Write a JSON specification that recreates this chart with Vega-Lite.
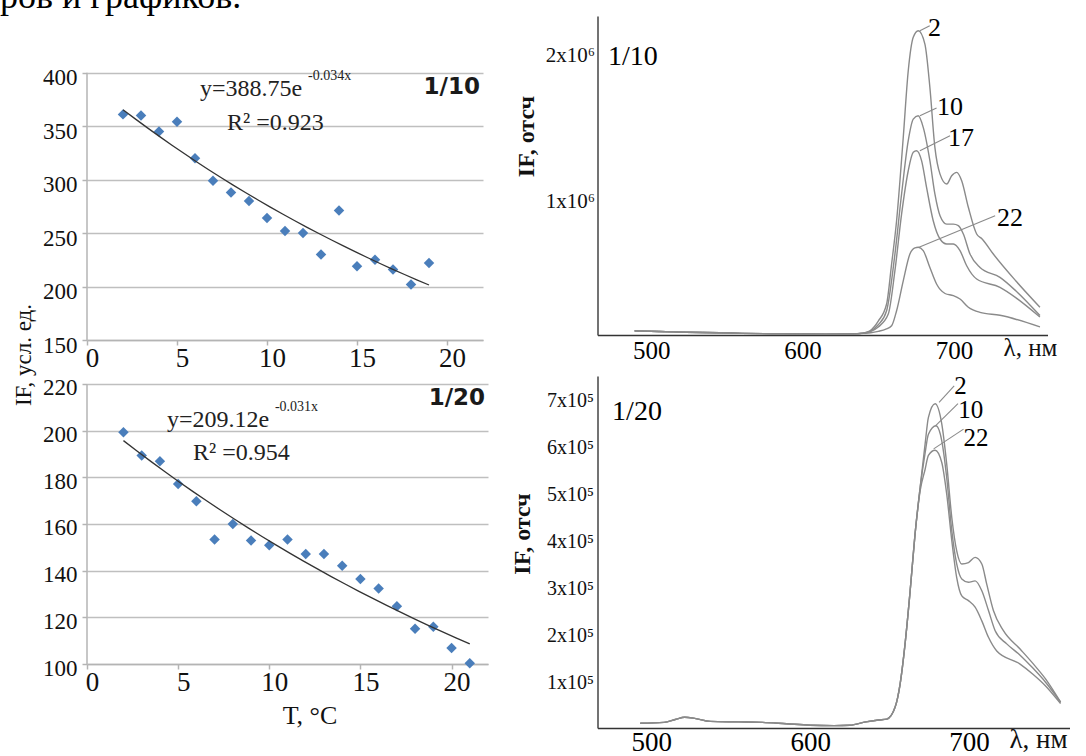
{
  "$schema": "https://vega.github.io/schema/vega-lite/v6.json",
  "background": "white",
  "padding": {"left": 0, "top": -22, "right": 0, "bottom": 0},
  "config": {
    "view": {"stroke": null},
    "font": "Liberation Serif",
    "axis": {"labelFont": "Liberation Serif", "titleFont": "Liberation Serif", "labelColor": "#111", "titleColor": "#111", "labelOverlap": false, "labelFlush": false, "labelBound": false, "titleFontWeight": "normal"}
  },
  "datasets": {
    "tl": [
      {"T": 2, "I": 361}, {"T": 3, "I": 360}, {"T": 4, "I": 345}, {"T": 5, "I": 354}, {"T": 6, "I": 320},
      {"T": 7, "I": 299}, {"T": 8, "I": 288}, {"T": 9, "I": 280}, {"T": 10, "I": 264}, {"T": 11, "I": 252},
      {"T": 12, "I": 250}, {"T": 13, "I": 230}, {"T": 14, "I": 271}, {"T": 15, "I": 219}, {"T": 16, "I": 225},
      {"T": 17, "I": 216}, {"T": 18, "I": 202}, {"T": 19, "I": 222}
    ],
    "bl": [
      {"T": 2, "I": 199.3}, {"T": 3, "I": 189.3}, {"T": 4, "I": 186.9}, {"T": 5, "I": 177.1}, {"T": 6, "I": 169.7},
      {"T": 7, "I": 153.3}, {"T": 8, "I": 160}, {"T": 9, "I": 152.9}, {"T": 10, "I": 150.9}, {"T": 11, "I": 153.3},
      {"T": 12, "I": 147.1}, {"T": 13, "I": 147.1}, {"T": 14, "I": 142.1}, {"T": 15, "I": 136.4}, {"T": 16, "I": 132.3},
      {"T": 17, "I": 124.7}, {"T": 18, "I": 115.1}, {"T": 19, "I": 116}, {"T": 20, "I": 106.9}, {"T": 21, "I": 100.3}
    ],
    "tr": [
      {"s": "2", "wl": 489, "I": 28000}, {"s": "2", "wl": 505, "I": 24000}, {"s": "2", "wl": 523, "I": 19000}, {"s": "2", "wl": 545, "I": 15000}, {"s": "2", "wl": 560, "I": 11000}, {"s": "2", "wl": 580, "I": 9000}, {"s": "2", "wl": 598, "I": 7000}, {"s": "2", "wl": 615, "I": 6000}, {"s": "2", "wl": 633, "I": 7000}, {"s": "2", "wl": 640, "I": 13000},
      {"s": "2", "wl": 644.5, "I": 29000}, {"s": "2", "wl": 650, "I": 95000}, {"s": "2", "wl": 655.5, "I": 212000}, {"s": "2", "wl": 658.8, "I": 485000}, {"s": "2", "wl": 662.1, "I": 782000}, {"s": "2", "wl": 666.5, "I": 1352000}, {"s": "2", "wl": 669.8, "I": 1808000}, {"s": "2", "wl": 673.1, "I": 2037000}, {"s": "2", "wl": 676.4, "I": 2082000}, {"s": "2", "wl": 680.8, "I": 1991000}, {"s": "2", "wl": 684.1, "I": 1694000}, {"s": "2", "wl": 687.4, "I": 1284000}, {"s": "2", "wl": 690.8, "I": 1101000}, {"s": "2", "wl": 695.2, "I": 1033000}, {"s": "2", "wl": 698.5, "I": 1090000}, {"s": "2", "wl": 701.8, "I": 1113000}, {"s": "2", "wl": 705.1, "I": 1056000}, {"s": "2", "wl": 709.5, "I": 874000}, {"s": "2", "wl": 715, "I": 691000}, {"s": "2", "wl": 718.6, "I": 657000}, {"s": "2", "wl": 726, "I": 554000}, {"s": "2", "wl": 740.8, "I": 371000}, {"s": "2", "wl": 756.8, "I": 190000},
      {"s": "10", "wl": 489, "I": 28000}, {"s": "10", "wl": 505, "I": 24000}, {"s": "10", "wl": 523, "I": 19000}, {"s": "10", "wl": 545, "I": 15000}, {"s": "10", "wl": 560, "I": 11000}, {"s": "10", "wl": 580, "I": 9000}, {"s": "10", "wl": 598, "I": 7000}, {"s": "10", "wl": 615, "I": 6000}, {"s": "10", "wl": 633, "I": 7000}, {"s": "10", "wl": 640, "I": 13000},
      {"s": "10", "wl": 644.5, "I": 25000}, {"s": "10", "wl": 650, "I": 70000}, {"s": "10", "wl": 655.5, "I": 166000}, {"s": "10", "wl": 661, "I": 554000}, {"s": "10", "wl": 665.4, "I": 965000}, {"s": "10", "wl": 669.8, "I": 1330000}, {"s": "10", "wl": 673.1, "I": 1477000}, {"s": "10", "wl": 676.4, "I": 1500000}, {"s": "10", "wl": 679.7, "I": 1421000}, {"s": "10", "wl": 684.1, "I": 1193000}, {"s": "10", "wl": 687.4, "I": 965000}, {"s": "10", "wl": 690.8, "I": 816000}, {"s": "10", "wl": 695.2, "I": 759000}, {"s": "10", "wl": 699.6, "I": 759000}, {"s": "10", "wl": 702.9, "I": 748000}, {"s": "10", "wl": 706.2, "I": 691000}, {"s": "10", "wl": 710.6, "I": 554000}, {"s": "10", "wl": 717.2, "I": 462000}, {"s": "10", "wl": 730.4, "I": 394000}, {"s": "10", "wl": 740.8, "I": 303000}, {"s": "10", "wl": 756.8, "I": 133000},
      {"s": "17", "wl": 489, "I": 28000}, {"s": "17", "wl": 505, "I": 24000}, {"s": "17", "wl": 523, "I": 19000}, {"s": "17", "wl": 545, "I": 15000}, {"s": "17", "wl": 560, "I": 11000}, {"s": "17", "wl": 580, "I": 9000}, {"s": "17", "wl": 598, "I": 7000}, {"s": "17", "wl": 615, "I": 6000}, {"s": "17", "wl": 633, "I": 7000}, {"s": "17", "wl": 640, "I": 13000},
      {"s": "17", "wl": 644.5, "I": 22000}, {"s": "17", "wl": 650, "I": 55000}, {"s": "17", "wl": 656.6, "I": 143000}, {"s": "17", "wl": 661, "I": 440000}, {"s": "17", "wl": 665.4, "I": 827000}, {"s": "17", "wl": 669.8, "I": 1124000}, {"s": "17", "wl": 673.1, "I": 1250000}, {"s": "17", "wl": 675.3, "I": 1261000}, {"s": "17", "wl": 678.6, "I": 1193000}, {"s": "17", "wl": 681.9, "I": 1010000}, {"s": "17", "wl": 686.3, "I": 782000}, {"s": "17", "wl": 690.8, "I": 657000}, {"s": "17", "wl": 695.2, "I": 623000}, {"s": "17", "wl": 699.6, "I": 623000}, {"s": "17", "wl": 704, "I": 577000}, {"s": "17", "wl": 708.4, "I": 474000}, {"s": "17", "wl": 715, "I": 383000}, {"s": "17", "wl": 730.4, "I": 326000}, {"s": "17", "wl": 740.8, "I": 256000}, {"s": "17", "wl": 756.8, "I": 123000},
      {"s": "22", "wl": 489, "I": 28000}, {"s": "22", "wl": 505, "I": 24000}, {"s": "22", "wl": 523, "I": 19000}, {"s": "22", "wl": 545, "I": 15000}, {"s": "22", "wl": 560, "I": 11000}, {"s": "22", "wl": 580, "I": 9000}, {"s": "22", "wl": 598, "I": 7000}, {"s": "22", "wl": 615, "I": 6000}, {"s": "22", "wl": 633, "I": 7000}, {"s": "22", "wl": 640, "I": 11000},
      {"s": "22", "wl": 645, "I": 15000}, {"s": "22", "wl": 650, "I": 25000}, {"s": "22", "wl": 655, "I": 40000}, {"s": "22", "wl": 658.8, "I": 63000}, {"s": "22", "wl": 662.1, "I": 166000}, {"s": "22", "wl": 666.5, "I": 371000}, {"s": "22", "wl": 670.9, "I": 554000}, {"s": "22", "wl": 674.2, "I": 596000}, {"s": "22", "wl": 676.4, "I": 600000}, {"s": "22", "wl": 679.7, "I": 577000}, {"s": "22", "wl": 684.1, "I": 462000}, {"s": "22", "wl": 688.5, "I": 349000}, {"s": "22", "wl": 694.1, "I": 284000}, {"s": "22", "wl": 699.6, "I": 269000}, {"s": "22", "wl": 704, "I": 246000}, {"s": "22", "wl": 709.5, "I": 190000}, {"s": "22", "wl": 717.2, "I": 155000}, {"s": "22", "wl": 730.4, "I": 135000}, {"s": "22", "wl": 756.8, "I": 55000}
    ],
    "br": [
      {"s": "2", "wl": 493, "I": 10000}, {"s": "2", "wl": 508, "I": 12000}, {"s": "2", "wl": 515, "I": 18000}, {"s": "2", "wl": 521, "I": 23000}, {"s": "2", "wl": 528, "I": 20000}, {"s": "2", "wl": 537, "I": 14000}, {"s": "2", "wl": 555, "I": 13000}, {"s": "2", "wl": 570, "I": 12000}, {"s": "2", "wl": 585, "I": 9000}, {"s": "2", "wl": 600, "I": 6000}, {"s": "2", "wl": 615, "I": 5000}, {"s": "2", "wl": 625, "I": 6000}, {"s": "2", "wl": 635, "I": 13000}, {"s": "2", "wl": 643, "I": 17000}, {"s": "2", "wl": 648.2, "I": 19000}, {"s": "2", "wl": 653.4, "I": 44000}, {"s": "2", "wl": 656.6, "I": 94000}, {"s": "2", "wl": 659.7, "I": 179000}, {"s": "2", "wl": 662.9, "I": 292000}, {"s": "2", "wl": 666, "I": 413000}, {"s": "2", "wl": 669.2, "I": 512000},
      {"s": "2", "wl": 672.3, "I": 604000}, {"s": "2", "wl": 674.4, "I": 661000}, {"s": "2", "wl": 678.6, "I": 690000}, {"s": "2", "wl": 682.8, "I": 647000}, {"s": "2", "wl": 685.9, "I": 562000}, {"s": "2", "wl": 689.1, "I": 448000}, {"s": "2", "wl": 692.2, "I": 377000}, {"s": "2", "wl": 695.4, "I": 349000}, {"s": "2", "wl": 699.6, "I": 352000}, {"s": "2", "wl": 703.8, "I": 363000}, {"s": "2", "wl": 708, "I": 349000}, {"s": "2", "wl": 711.1, "I": 306000}, {"s": "2", "wl": 715.3, "I": 250000}, {"s": "2", "wl": 721.6, "I": 207000}, {"s": "2", "wl": 732.1, "I": 168000}, {"s": "2", "wl": 740, "I": 138000}, {"s": "2", "wl": 748, "I": 105000}, {"s": "2", "wl": 757.6, "I": 55000},
      {"s": "10", "wl": 493, "I": 10000}, {"s": "10", "wl": 508, "I": 12000}, {"s": "10", "wl": 515, "I": 18000}, {"s": "10", "wl": 521, "I": 23000}, {"s": "10", "wl": 528, "I": 20000}, {"s": "10", "wl": 537, "I": 14000}, {"s": "10", "wl": 555, "I": 13000}, {"s": "10", "wl": 570, "I": 12000}, {"s": "10", "wl": 585, "I": 9000}, {"s": "10", "wl": 600, "I": 6000}, {"s": "10", "wl": 615, "I": 5000}, {"s": "10", "wl": 625, "I": 6000}, {"s": "10", "wl": 635, "I": 13000}, {"s": "10", "wl": 643, "I": 17000}, {"s": "10", "wl": 648.2, "I": 19000}, {"s": "10", "wl": 653.4, "I": 44000}, {"s": "10", "wl": 656.6, "I": 94000}, {"s": "10", "wl": 659.7, "I": 179000}, {"s": "10", "wl": 662.9, "I": 292000}, {"s": "10", "wl": 666, "I": 413000}, {"s": "10", "wl": 669.2, "I": 512000},
      {"s": "10", "wl": 672.3, "I": 585000}, {"s": "10", "wl": 674.4, "I": 625000}, {"s": "10", "wl": 679.2, "I": 643000}, {"s": "10", "wl": 682.8, "I": 611000}, {"s": "10", "wl": 685.9, "I": 533000}, {"s": "10", "wl": 689.1, "I": 420000}, {"s": "10", "wl": 692.2, "I": 349000}, {"s": "10", "wl": 695.4, "I": 317000}, {"s": "10", "wl": 699.6, "I": 310000}, {"s": "10", "wl": 703.8, "I": 313000}, {"s": "10", "wl": 708, "I": 292000}, {"s": "10", "wl": 712.2, "I": 250000}, {"s": "10", "wl": 716.4, "I": 207000}, {"s": "10", "wl": 723.7, "I": 179000}, {"s": "10", "wl": 732.1, "I": 155000}, {"s": "10", "wl": 740, "I": 128000}, {"s": "10", "wl": 748, "I": 98000}, {"s": "10", "wl": 757.6, "I": 55000},
      {"s": "22", "wl": 493, "I": 10000}, {"s": "22", "wl": 508, "I": 12000}, {"s": "22", "wl": 515, "I": 18000}, {"s": "22", "wl": 521, "I": 23000}, {"s": "22", "wl": 528, "I": 20000}, {"s": "22", "wl": 537, "I": 14000}, {"s": "22", "wl": 555, "I": 13000}, {"s": "22", "wl": 570, "I": 12000}, {"s": "22", "wl": 585, "I": 9000}, {"s": "22", "wl": 600, "I": 6000}, {"s": "22", "wl": 615, "I": 5000}, {"s": "22", "wl": 625, "I": 6000}, {"s": "22", "wl": 635, "I": 13000}, {"s": "22", "wl": 643, "I": 17000}, {"s": "22", "wl": 648.2, "I": 19000}, {"s": "22", "wl": 653.4, "I": 44000}, {"s": "22", "wl": 656.6, "I": 94000}, {"s": "22", "wl": 659.7, "I": 179000}, {"s": "22", "wl": 662.9, "I": 292000}, {"s": "22", "wl": 666, "I": 413000}, {"s": "22", "wl": 669.2, "I": 505000},
      {"s": "22", "wl": 672.3, "I": 550000}, {"s": "22", "wl": 674.4, "I": 580000}, {"s": "22", "wl": 678.6, "I": 591000}, {"s": "22", "wl": 682.8, "I": 565000}, {"s": "22", "wl": 685.9, "I": 498000}, {"s": "22", "wl": 689.1, "I": 399000}, {"s": "22", "wl": 692.2, "I": 320000}, {"s": "22", "wl": 695.4, "I": 281000}, {"s": "22", "wl": 699.6, "I": 271000}, {"s": "22", "wl": 703.8, "I": 257000}, {"s": "22", "wl": 708, "I": 228000}, {"s": "22", "wl": 712.2, "I": 193000}, {"s": "22", "wl": 717.4, "I": 164000}, {"s": "22", "wl": 732.1, "I": 136000}, {"s": "22", "wl": 740, "I": 115000}, {"s": "22", "wl": 748, "I": 90000}, {"s": "22", "wl": 757.6, "I": 52000}
    ]
  },
  "columns": 2,
  "bounds": "flush",
  "align": "each",
  "spacing": {"row": 36, "column": 109.5},
  "concat": [
    {
      "width": 396,
      "height": 324,
      "layer": [
        {
          "data": {"name": "tl"},
          "mark": {"type": "point", "shape": "diamond", "filled": true, "size": 110, "color": "#4a7ebb", "opacity": 1},
          "encoding": {
            "x": {"field": "T", "type": "quantitative", "scale": {"domain": [0, 22], "nice": false, "zero": false},
              "axis": {"values": [0, 5, 10, 15, 20], "title": null, "grid": false, "domainColor": "#b4b4b4", "domainWidth": 1.5, "tickColor": "#b4b4b4", "tickSize": 5, "tickWidth": 1.5, "labelFontSize": 27, "labelPadding": 0, "labelOffset": 5}},
            "y": {"field": "I", "type": "quantitative", "scale": {"domain": [150, 453], "nice": false, "zero": false},
              "axis": {"values": [150, 200, 250, 300, 350, 400], "title": "IF, усл. ед.", "titleX": -64, "titleY": 338.5, "titleAngle": 270, "titleAlign": "center", "titleBaseline": "middle", "titleFontSize": 23, "grid": true, "gridColor": "#bfbfbf", "gridWidth": 1.5, "domain": false, "tickColor": "#b4b4b4", "tickSize": 5, "tickWidth": 1.5, "labelFontSize": 23, "labelPadding": 5, "labelOffset": 5}}
          }
        },
        {
          "data": {"values": [{"T": 0, "I": 150, "I2": 400}]},
          "mark": {"type": "rule", "color": "#b4b4b4", "strokeWidth": 1.5},
          "encoding": {"x": {"field": "T", "type": "quantitative"}, "y": {"field": "I", "type": "quantitative"}, "y2": {"field": "I2"}}
        },
        {
          "data": {"name": "tl"},
          "transform": [{"regression": "I", "on": "T", "method": "exp"}],
          "mark": {"type": "line", "color": "#333333", "strokeWidth": 1.3},
          "encoding": {"x": {"field": "T", "type": "quantitative"}, "y": {"field": "I", "type": "quantitative"}}
        },
        {
          "data": {"values": [{"T": 6.28, "I": 384.8, "t": "y=388.75e"}, {"T": 7.78, "I": 353.2, "t": "R² =0.923"}]},
          "mark": {"type": "text", "align": "left", "baseline": "middle", "fontSize": 24, "font": "Liberation Serif", "color": "#222222"},
          "encoding": {"x": {"field": "T", "type": "quantitative"}, "y": {"field": "I", "type": "quantitative"}, "text": {"field": "t"}}
        },
        {
          "data": {"values": [{"T": 12.28, "I": 396.9, "t": "-0.034x"}]},
          "mark": {"type": "text", "align": "left", "baseline": "middle", "fontSize": 14, "font": "Liberation Serif", "color": "#222222"},
          "encoding": {"x": {"field": "T", "type": "quantitative"}, "y": {"field": "I", "type": "quantitative"}, "text": {"field": "t"}}
        },
        {
          "data": {"values": [{"T": 21.83, "I": 386.6, "t": "1/10"}]},
          "mark": {"type": "text", "align": "right", "baseline": "middle", "fontSize": 23, "font": "DejaVu Sans", "fontWeight": "bold", "color": "#1a1a1a"},
          "encoding": {"x": {"field": "T", "type": "quantitative"}, "y": {"field": "I", "type": "quantitative"}, "text": {"field": "t"}}
        },
        {
          "data": {"values": [{"T": -4.833, "I": 460.5, "t": "ров и графиков."}]},
          "mark": {"type": "text", "align": "left", "baseline": "alphabetic", "fontSize": 36, "font": "Liberation Serif", "color": "#000000"},
          "encoding": {"x": {"field": "T", "type": "quantitative"}, "y": {"field": "I", "type": "quantitative"}, "text": {"field": "t"}}
        }
      ]
    },
    {
      "width": 450,
      "height": 319,
      "layer": [
        {
          "data": {"name": "tr"},
          "mark": {"type": "line", "color": "#8a8a8a", "strokeWidth": 1.4, "interpolate": "monotone"},
          "encoding": {
            "x": {"field": "wl", "type": "quantitative", "scale": {"domain": [464.5, 761.8], "nice": false, "zero": false},
              "axis": {"values": [500, 600, 700], "title": "λ, нм", "titleX": 432.5, "titleY": 12.7, "titleAlign": "center", "titleBaseline": "middle", "titleFontSize": 25, "grid": false, "domainColor": "#333333", "domainWidth": 1.5, "ticks": false, "tickSize": 0, "labelFontSize": 25, "labelPadding": 3, "labelColor": "#000000"}},
            "y": {"field": "I", "type": "quantitative", "scale": {"domain": [0, 2183000], "nice": false},
              "axis": {"values": [1000000, 2000000], "labelExpr": "datum.value/1000000 + 'x10⁶'", "title": "IF, отсч", "titleX": -71, "titleY": 120, "titleAngle": 270, "titleAlign": "center", "titleBaseline": "middle", "titleFontSize": 24, "titleFontWeight": "bold", "grid": false, "domainColor": "#444444", "domainWidth": 1.5, "ticks": false, "tickSize": 0, "labelFontSize": 21, "labelPadding": 3, "labelOffset": 13}},
            "detail": {"field": "s"}
          }
        },
        {
          "data": {"values": [
            {"wl": 677.5, "I": 2082000, "wl2": 684, "I2": 2116000},
            {"wl": 677.5, "I": 1500000, "wl2": 688.5, "I2": 1553000},
            {"wl": 677.5, "I": 1261000, "wl2": 697.4, "I2": 1364000},
            {"wl": 676.5, "I": 599000, "wl2": 727.2, "I2": 816000}
          ]},
          "mark": {"type": "rule", "color": "#8a8a8a", "strokeWidth": 1.1},
          "encoding": {"x": {"field": "wl", "type": "quantitative"}, "x2": {"field": "wl2"}, "y": {"field": "I", "type": "quantitative"}, "y2": {"field": "I2"}}
        },
        {
          "data": {"values": [{"wl": 471.4, "I": 1904000, "t": "1/10"}]},
          "mark": {"type": "text", "align": "left", "baseline": "middle", "fontSize": 28, "font": "Liberation Serif", "color": "#000000"},
          "encoding": {"x": {"field": "wl", "type": "quantitative"}, "y": {"field": "I", "type": "quantitative"}, "text": {"field": "t"}}
        },
        {
          "data": {"values": [
            {"wl": 682.8, "I": 2103000, "t": "2"},
            {"wl": 688.8, "I": 1562000, "t": "10"},
            {"wl": 696, "I": 1347000, "t": "17"},
            {"wl": 728.4, "I": 799000, "t": "22"}
          ]},
          "mark": {"type": "text", "align": "left", "baseline": "middle", "fontSize": 26, "font": "Liberation Serif", "color": "#000000"},
          "encoding": {"x": {"field": "wl", "type": "quantitative"}, "y": {"field": "I", "type": "quantitative"}, "text": {"field": "t"}}
        }
      ]
    },
    {
      "width": 401,
      "height": 288,
      "layer": [
        {
          "data": {"name": "bl"},
          "mark": {"type": "point", "shape": "diamond", "filled": true, "size": 110, "color": "#4a7ebb", "opacity": 1},
          "encoding": {
            "x": {"field": "T", "type": "quantitative", "scale": {"domain": [0, 22], "nice": false, "zero": false},
              "axis": {"values": [0, 5, 10, 15, 20], "title": "T, °C", "titleX": 222.5, "titleY": 51, "titleAlign": "center", "titleBaseline": "middle", "titleFontSize": 26, "grid": false, "domainColor": "#b4b4b4", "domainWidth": 1.5, "tickColor": "#b4b4b4", "tickSize": 5, "tickWidth": 1.5, "labelFontSize": 27, "labelPadding": 0, "labelOffset": 5}},
            "y": {"field": "I", "type": "quantitative", "scale": {"domain": [100, 223.4], "nice": false, "zero": false},
              "axis": {"values": [100, 120, 140, 160, 180, 200, 220], "title": null, "grid": true, "gridColor": "#bfbfbf", "gridWidth": 1.5, "domain": false, "tickColor": "#b4b4b4", "tickSize": 5, "tickWidth": 1.5, "labelFontSize": 23, "labelPadding": 5, "labelOffset": 4}}
          }
        },
        {
          "data": {"values": [{"T": 0, "I": 100, "I2": 220}]},
          "mark": {"type": "rule", "color": "#b4b4b4", "strokeWidth": 1.5},
          "encoding": {"x": {"field": "T", "type": "quantitative"}, "y": {"field": "I", "type": "quantitative"}, "y2": {"field": "I2"}}
        },
        {
          "data": {"name": "bl"},
          "transform": [{"regression": "I", "on": "T", "method": "exp"}],
          "mark": {"type": "line", "color": "#333333", "strokeWidth": 1.3},
          "encoding": {"x": {"field": "T", "type": "quantitative"}, "y": {"field": "I", "type": "quantitative"}}
        },
        {
          "data": {"values": [{"T": 4.39, "I": 204.76, "t": "y=209.12e"}, {"T": 5.82, "I": 190.2, "t": "R² =0.954"}]},
          "mark": {"type": "text", "align": "left", "baseline": "middle", "fontSize": 24, "font": "Liberation Serif", "color": "#222222"},
          "encoding": {"x": {"field": "T", "type": "quantitative"}, "y": {"field": "I", "type": "quantitative"}, "text": {"field": "t"}}
        },
        {
          "data": {"values": [{"T": 10.31, "I": 210.1, "t": "-0.031x"}]},
          "mark": {"type": "text", "align": "left", "baseline": "middle", "fontSize": 14, "font": "Liberation Serif", "color": "#222222"},
          "encoding": {"x": {"field": "T", "type": "quantitative"}, "y": {"field": "I", "type": "quantitative"}, "text": {"field": "t"}}
        },
        {
          "data": {"values": [{"T": 21.84, "I": 213.76, "t": "1/20"}]},
          "mark": {"type": "text", "align": "right", "baseline": "middle", "fontSize": 23, "font": "DejaVu Sans", "fontWeight": "bold", "color": "#1a1a1a"},
          "encoding": {"x": {"field": "T", "type": "quantitative"}, "y": {"field": "I", "type": "quantitative"}, "text": {"field": "t"}}
        }
      ]
    },
    {
      "width": 472,
      "height": 352,
      "layer": [
        {
          "data": {"name": "br"},
          "mark": {"type": "line", "color": "#8a8a8a", "strokeWidth": 1.4, "interpolate": "monotone"},
          "encoding": {
            "x": {"field": "wl", "type": "quantitative", "scale": {"domain": [466.1, 763.2], "nice": false, "zero": false},
              "axis": {"values": [500, 600, 700], "title": "λ, нм", "titleX": 440.5, "titleY": 11.7, "titleAlign": "center", "titleBaseline": "middle", "titleFontSize": 27, "grid": false, "domainColor": "#333333", "domainWidth": 1.5, "ticks": false, "tickSize": 0, "labelFontSize": 27, "labelPadding": 1.5, "labelColor": "#000000"}},
            "y": {"field": "I", "type": "quantitative", "scale": {"domain": [0, 749000], "nice": false},
              "axis": {"values": [100000, 200000, 300000, 400000, 500000, 600000, 700000], "labelExpr": "datum.value/100000 + 'x10⁵'", "title": "IF, отсч", "titleX": -75, "titleY": 157.5, "titleAngle": 270, "titleAlign": "center", "titleBaseline": "middle", "titleFontSize": 24, "titleFontWeight": "bold", "grid": false, "domainColor": "#444444", "domainWidth": 1.5, "ticks": false, "tickSize": 0, "labelFontSize": 20, "labelPadding": 4, "labelOffset": 1}},
            "detail": {"field": "s"}
          }
        },
        {
          "data": {"values": [
            {"wl": 681.1, "I": 693000, "wl2": 690.6, "I2": 728000},
            {"wl": 678.8, "I": 643000, "wl2": 693, "I2": 690000},
            {"wl": 677.7, "I": 594000, "wl2": 696.5, "I2": 636000}
          ]},
          "mark": {"type": "rule", "color": "#8a8a8a", "strokeWidth": 1.1},
          "encoding": {"x": {"field": "wl", "type": "quantitative"}, "x2": {"field": "wl2"}, "y": {"field": "I", "type": "quantitative"}, "y2": {"field": "I2"}}
        },
        {
          "data": {"values": [{"wl": 475.3, "I": 671500, "t": "1/20"}]},
          "mark": {"type": "text", "align": "left", "baseline": "middle", "fontSize": 28, "font": "Liberation Serif", "color": "#000000"},
          "encoding": {"x": {"field": "wl", "type": "quantitative"}, "y": {"field": "I", "type": "quantitative"}, "text": {"field": "t"}}
        },
        {
          "data": {"values": [
            {"wl": 690.6, "I": 727000, "t": "2"},
            {"wl": 693.1, "I": 676000, "t": "10"},
            {"wl": 696.4, "I": 618000, "t": "22"}
          ]},
          "mark": {"type": "text", "align": "left", "baseline": "middle", "fontSize": 25, "font": "Liberation Serif", "color": "#000000"},
          "encoding": {"x": {"field": "wl", "type": "quantitative"}, "y": {"field": "I", "type": "quantitative"}, "text": {"field": "t"}}
        }
      ]
    }
  ]
}
